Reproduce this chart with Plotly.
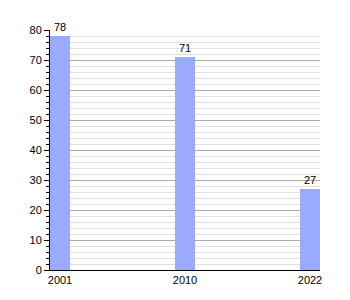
import plotly.graph_objects as go

years = ["2001", "2010", "2022"]
values = [78, 71, 27]
positions = [0, 1, 2]

fig = go.Figure()
fig.add_trace(go.Bar(
    x=positions, y=values, width=0.16,
    marker=dict(color="#99aaff", line=dict(width=0)),
    text=[str(v) for v in values], textposition="outside",
    textfont=dict(color="black", size=11, family="Liberation Sans, Arial"),
    cliponaxis=False,
))
fig.update_layout(
    width=350, height=300,
    margin=dict(l=50, r=30, t=30, b=30),
    paper_bgcolor="white", plot_bgcolor="white",
    showlegend=False,
    font=dict(family="Liberation Sans, Arial", size=11, color="black"),
    bargap=0,
)
fig.update_xaxes(
    range=[-0.08, 2.08], tickvals=positions, ticktext=years,
    showgrid=False, showline=True, linecolor="black", linewidth=1,
    ticks="", zeroline=False, fixedrange=True,
)
fig.update_yaxes(
    range=[0, 80], dtick=10, showline=True, linecolor="black", linewidth=1,
    ticks="outside", ticklen=5, tickcolor="black",
    gridcolor="#aaaaaa", gridwidth=1, zeroline=False,
    minor=dict(dtick=2, showgrid=True, gridcolor="#e0e0e0", ticks="outside", ticklen=3, tickcolor="black"),
)
fig.write_html("out.html")
